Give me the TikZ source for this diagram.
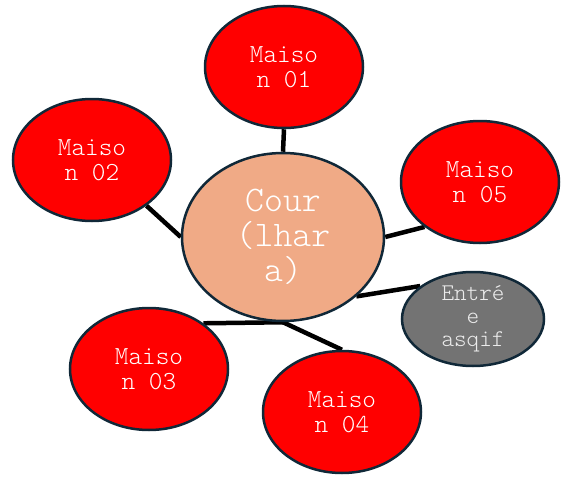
\documentclass[tikz,border=0pt]{standalone}
\usepackage{fontspec}
\usepackage{xcolor}
\usepackage{tikz}
\usetikzlibrary{shapes.geometric,backgrounds}
\newfontfamily\lightmono{lmmonolt10-regular.otf}
\definecolor{bordernavy}{RGB}{16, 40, 56}
\definecolor{maisonred}{RGB}{255, 0, 0}
\definecolor{coursalmon}{RGB}{240, 170, 134}
\definecolor{entreegray}{RGB}{115, 115, 115}

\tikzset{
    bubble/.style={ellipse, draw=bordernavy, line width=2.5pt, inner sep=0pt, align=center, text=white},
    maison/.style={bubble, fill=maisonred, minimum width=158pt, minimum height=122pt, font=\lightmono\fontsize{26}{25}\selectfont},
    cour/.style={bubble, fill=coursalmon, minimum width=202pt, minimum height=168pt, font=\lightmono\fontsize{36}{35}\selectfont},
    entree/.style={bubble, fill=entreegray, text=white!92!black, minimum width=142pt, minimum height=94pt, font=\lightmono\fontsize{24}{23}\selectfont},
    link/.style={line width=4.5pt, black}
}

\begin{document}
\begin{tikzpicture}[x=1pt, y=-1pt]
    \useasboundingbox (0, 0) rectangle (563, 479);

    % centre
    \node[cour] (cour) at (283, 237) {Cour\\(lhar\\a)};

    % maisons
    \node[maison] (m1) at (284, 67) {Maiso\\n 01};
    \node[maison] (m2) at (92, 160) {Maiso\\n 02};
    \node[maison] (m3) at (149, 369) {Maiso\\n 03};
    \node[maison] (m4) at (342, 412) {Maiso\\n 04};
    \node[maison] (m5) at (480, 182) {Maiso\\n 05};

    \node[entree] (ent) at (473, 319) {Entré\\e\\asqif};

    % liaisons
    \begin{scope}[on background layer]
        \coordinate (fork) at (cour.south);
        \draw[link] (m1.south) -- (cour.north);
        \draw[link] (m2.-40) -- (cour.west);
        \draw[link] (m5.219) -- (cour.east);
        \draw[link] (ent.148) -- (cour.-39);
        \draw[link] (m3.40) -- (fork);
        \draw[link] (fork) -- (m4.north);
    \end{scope}
\end{tikzpicture}
\end{document}
